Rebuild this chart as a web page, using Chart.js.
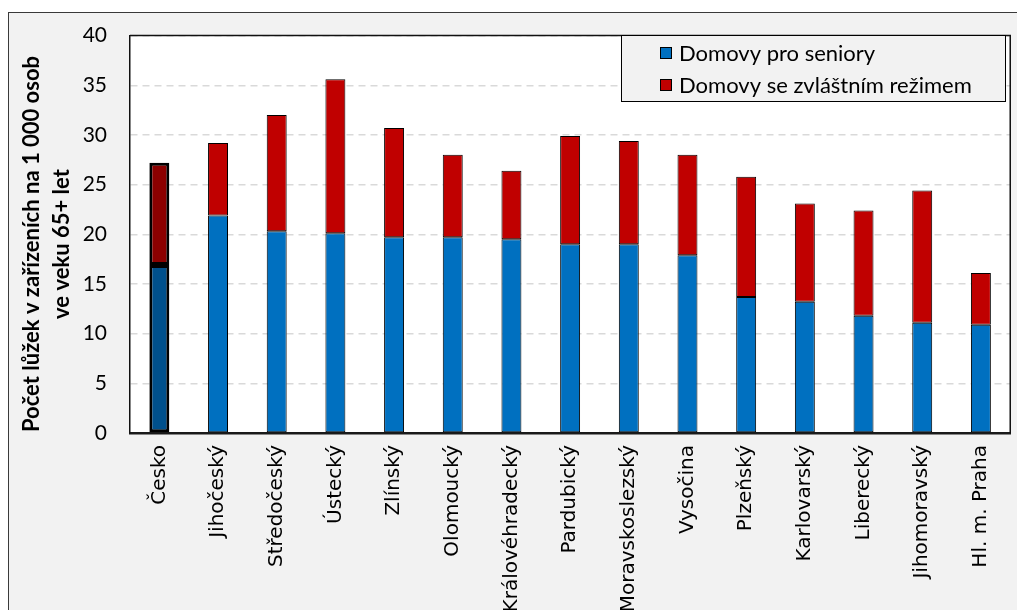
<!DOCTYPE html>
<html lang="cs">
<head>
<meta charset="utf-8">
<title>Počet lůžek v zařízeních na 1 000 osob ve veku 65+ let</title>
<script src="https://cdn.jsdelivr.net/npm/chart.js@4/dist/chart.umd.min.js"></script>
<style>
  html, body { margin: 0; padding: 0; background: #ffffff; }
  #wrap { width: 1017px; height: 610px; position: relative; }
</style>
</head>
<body>
<div id="wrap"><canvas id="c" width="1017" height="610"></canvas></div>
<script>
// Kraje (první sloupec = celá republika)
const categories = ['Česko', 'Jihočeský', 'Středočeský', 'Ústecký', 'Zlínský', 'Olomoucký',
  'Královéhradecký', 'Pardubický', 'Moravskoslezský', 'Vysočina', 'Plzeňský',
  'Karlovarský', 'Liberecký', 'Jihomoravský', 'Hl. m. Praha'];

// Lůžka na 1 000 osob ve věku 65+
const domovyProSeniory = [16.9, 21.9, 20.3, 20.1, 19.7, 19.7, 19.5, 19.0, 19.0, 17.9, 13.7, 13.2, 11.8, 11.1, 10.9];
const domovyZvlastniRezim = [10.3, 7.3, 11.7, 15.5, 11.0, 8.3, 6.9, 10.9, 10.4, 10.1, 12.1, 9.9, 10.6, 13.3, 5.2];

const yTicks = [0, 5, 10, 15, 20, 25, 30, 35, 40];
const seriesNames = ['Domovy pro seniory', 'Domovy se zvláštním režimem'];
const yTitleLines = ['Počet lůžek v zařízeních na 1 000 osob', 've veku 65+ let'];

const BLUE = '#0070C0', RED = '#C00000';
const BLUE_CZ = '#00508C', RED_CZ = '#8C0000';

const fillFor = (base, cz) => categories.map((_, i) => i === 0 ? cz : base);
const borderFor = () => categories.map((_, i) => i === 0 ? 3 : 1);

// Pozadí grafu, bílá plocha, rámeček, legenda a popisek osy Y
const framePlugin = {
  id: 'frame',
  beforeDraw(chart) {
    const { ctx, chartArea: a } = chart;
    ctx.save();
    ctx.fillStyle = '#ffffff';
    ctx.fillRect(0, 0, chart.width, chart.height);
    ctx.fillStyle = '#F2F2F2';
    ctx.fillRect(8, 12, chart.width, chart.height);
    ctx.strokeStyle = '#3a3a3a';
    ctx.lineWidth = 1;
    ctx.strokeRect(8.5, 12.5, chart.width + 10, chart.height + 10);
    ctx.fillStyle = '#ffffff';
    ctx.fillRect(a.left, a.top, a.right - a.left, a.bottom - a.top);
    ctx.restore();
  },
  afterDatasetsDraw(chart) {
    const { ctx, chartArea: a } = chart;
    ctx.save();
    ctx.strokeStyle = '#111111';
    ctx.lineWidth = 1.5;
    ctx.beginPath();
    ctx.moveTo(a.left, a.top);
    ctx.lineTo(a.right, a.top);
    ctx.lineTo(a.right, a.bottom);
    ctx.stroke();
    ctx.restore();
  },
  afterDraw(chart) {
    const { ctx } = chart;
    const box = { x: 621, y: 35, w: 384, h: 66 };
    ctx.save();
    ctx.fillStyle = '#F2F2F2';
    ctx.fillRect(box.x, box.y, box.w, box.h);
    ctx.strokeStyle = '#000000';
    ctx.lineWidth = 1;
    ctx.strokeRect(box.x + 0.5, box.y + 0.5, box.w, box.h);
    ctx.font = '22px Lato';
    ctx.textBaseline = 'middle';
    chart.data.datasets.forEach((ds, i) => {
      const cy = 53 + i * 32;
      ctx.fillStyle = i === 0 ? BLUE : RED;
      ctx.fillRect(660, cy - 6, 12, 12);
      ctx.strokeStyle = '#000000';
      ctx.strokeRect(660.5, cy - 5.5, 11, 11);
      ctx.fillStyle = '#000000';
      ctx.fillText(ds.label, 679, cy + 1);
    });
    ctx.font = 'bold 22px Lato';
    ctx.textAlign = 'center';
    ctx.textBaseline = 'middle';
    ctx.fillStyle = '#000000';
    ctx.translate(0, 244);
    ctx.rotate(-Math.PI / 2);
    yTitleLines.forEach((line, i) => ctx.fillText(line, 0, 32 + i * 30));
    ctx.restore();
  }
};

new Chart(document.getElementById('c'), {
  type: 'bar',
  data: {
    labels: categories,
    datasets: [
      {
        label: seriesNames[0],
        data: domovyProSeniory,
        backgroundColor: fillFor(BLUE, BLUE_CZ),
        borderColor: '#000000',
        borderWidth: borderFor(),
        borderSkipped: false,
        categoryPercentage: 1,
        barPercentage: 0.34
      },
      {
        label: seriesNames[1],
        data: domovyZvlastniRezim,
        backgroundColor: fillFor(RED, RED_CZ),
        borderColor: '#000000',
        borderWidth: borderFor(),
        borderSkipped: false,
        categoryPercentage: 1,
        barPercentage: 0.34
      }
    ]
  },
  options: {
    responsive: false,
    animation: false,
    devicePixelRatio: 1,
    layout: { padding: { top: 26, right: 3, left: 0, bottom: 0 } },
    plugins: {
      legend: { display: false },
      tooltip: { enabled: false },
      title: { display: false }
    },
    scales: {
      x: {
        stacked: true,
        grid: { display: false, drawTicks: false },
        border: { display: true, color: '#1a1a1a', width: 2.5 },
        ticks: {
          autoSkip: false,
          minRotation: 90,
          maxRotation: 90,
          padding: 12,
          color: '#000000',
          font: { family: 'DejaVu Sans', size: 20 }
        },
        afterFit(scale) { scale.height = 177; }
      },
      y: {
        stacked: true,
        min: 0,
        max: 40,
        afterBuildTicks(scale) { scale.ticks = yTicks.map(v => ({ value: v })); },
        grid: {
          display: true,
          drawTicks: false,
          drawOnChartArea: true,
          color: '#D9D9D9',
          lineWidth: 1.5
        },
        border: { display: true, color: '#111111', width: 1.5, dash: [7, 5] },
        ticks: {
          padding: 23,
          color: '#000000',
          font: { family: 'Lato', size: 21 }
        },
        afterFit(scale) { scale.width = 130; }
      }
    }
  },
  plugins: [framePlugin]
});
</script>
</body>
</html>
